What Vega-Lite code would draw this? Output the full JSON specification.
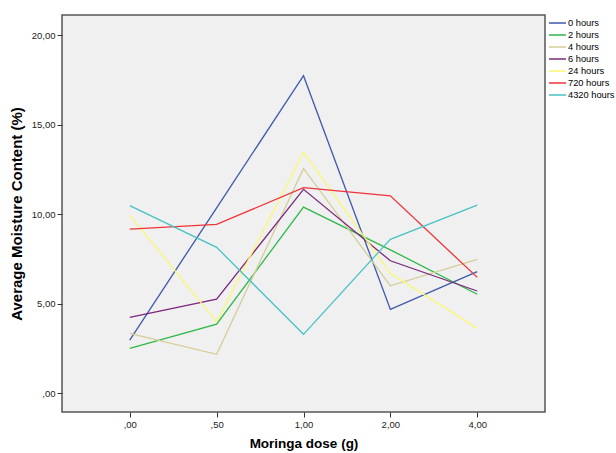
{
  "$schema": "https://vega.github.io/schema/vega-lite/v6.json",
  "width": 483,
  "height": 397,
  "autosize": {"type": "none"},
  "padding": {"left": 62, "top": 15, "right": 71, "bottom": 41},
  "background": "#ffffff",
  "config": {
    "font": "Liberation Sans",
    "view": {"fill": "#f0f0f0", "stroke": "#555555", "strokeWidth": 1.5}
  },
  "data": {
    "values": [
      {"dose": ",00", "series": "0 hours", "moisture": 2.96},
      {"dose": ",50", "series": "0 hours", "moisture": 10.35},
      {"dose": "1,00", "series": "0 hours", "moisture": 17.73},
      {"dose": "2,00", "series": "0 hours", "moisture": 4.67},
      {"dose": "4,00", "series": "0 hours", "moisture": 6.78},
      {"dose": ",00", "series": "2 hours", "moisture": 2.5},
      {"dose": ",50", "series": "2 hours", "moisture": 3.85},
      {"dose": "1,00", "series": "2 hours", "moisture": 10.39},
      {"dose": "2,00", "series": "2 hours", "moisture": 8.0},
      {"dose": "4,00", "series": "2 hours", "moisture": 5.52},
      {"dose": ",00", "series": "4 hours", "moisture": 3.33},
      {"dose": ",50", "series": "4 hours", "moisture": 2.16},
      {"dose": "1,00", "series": "4 hours", "moisture": 12.55},
      {"dose": "2,00", "series": "4 hours", "moisture": 5.99},
      {"dose": "4,00", "series": "4 hours", "moisture": 7.47},
      {"dose": ",00", "series": "6 hours", "moisture": 4.23},
      {"dose": ",50", "series": "6 hours", "moisture": 5.25},
      {"dose": "1,00", "series": "6 hours", "moisture": 11.38},
      {"dose": "2,00", "series": "6 hours", "moisture": 7.39},
      {"dose": "4,00", "series": "6 hours", "moisture": 5.7},
      {"dose": ",00", "series": "24 hours", "moisture": 9.94},
      {"dose": ",50", "series": "24 hours", "moisture": 3.98},
      {"dose": "1,00", "series": "24 hours", "moisture": 13.45},
      {"dose": "2,00", "series": "24 hours", "moisture": 6.69},
      {"dose": "4,00", "series": "24 hours", "moisture": 3.61},
      {"dose": ",00", "series": "720 hours", "moisture": 9.16},
      {"dose": ",50", "series": "720 hours", "moisture": 9.42},
      {"dose": "1,00", "series": "720 hours", "moisture": 11.47},
      {"dose": "2,00", "series": "720 hours", "moisture": 11.02},
      {"dose": "4,00", "series": "720 hours", "moisture": 6.46},
      {"dose": ",00", "series": "4320 hours", "moisture": 10.47},
      {"dose": ",50", "series": "4320 hours", "moisture": 8.14},
      {"dose": "1,00", "series": "4320 hours", "moisture": 3.28},
      {"dose": "2,00", "series": "4320 hours", "moisture": 8.59},
      {"dose": "4,00", "series": "4320 hours", "moisture": 10.5}
    ]
  },
  "mark": {"type": "line", "strokeWidth": 1.3},
  "encoding": {
    "x": {
      "field": "dose",
      "type": "ordinal",
      "sort": [",00", ",50", "1,00", "2,00", "4,00"],
      "scale": {"type": "point", "padding": 0.78},
      "axis": {
        "title": "Moringa dose (g)",
        "titleFontSize": 13.5,
        "titleFontWeight": "bold",
        "titleColor": "#000000",
        "titlePadding": 8,
        "labelFontSize": 9.5,
        "labelColor": "#222222",
        "labelAngle": 0,
        "labelPadding": 2,
        "tickSize": 5,
        "tickColor": "#333333",
        "domain": false,
        "grid": false
      }
    },
    "y": {
      "field": "moisture",
      "type": "quantitative",
      "scale": {"domain": [-1.06, 21.12], "nice": false, "zero": false},
      "axis": {
        "title": "Average Moisture Content (%)",
        "titleFontSize": 15,
        "titleFontWeight": "bold",
        "titleColor": "#000000",
        "titlePadding": 7,
        "values": [0, 5, 10, 15, 20],
        "labelExpr": "datum.value == 0 ? ',00' : replace(format(datum.value, '.2f'), '.', ',')",
        "labelFontSize": 9.5,
        "labelColor": "#222222",
        "labelPadding": 2,
        "tickSize": 5,
        "tickColor": "#333333",
        "domain": false,
        "grid": false
      }
    },
    "color": {
      "field": "series",
      "type": "nominal",
      "sort": ["0 hours", "2 hours", "4 hours", "6 hours", "24 hours", "720 hours", "4320 hours"],
      "scale": {
        "domain": ["0 hours", "2 hours", "4 hours", "6 hours", "24 hours", "720 hours", "4320 hours"],
        "range": ["#3E58AC", "#2EB848", "#D3CE97", "#7C287D", "#FBF873", "#EF3338", "#48C2C5"]
      },
      "legend": {
        "title": null,
        "orient": "none",
        "legendX": 486,
        "legendY": 2,
        "padding": 0,
        "symbolType": "stroke",
        "symbolSize": 289,
        "symbolStrokeWidth": 1.5,
        "clipHeight": 12,
        "rowPadding": 0,
        "labelOffset": 1,
        "labelFontSize": 9.3,
        "labelColor": "#000000"
      }
    }
  }
}
